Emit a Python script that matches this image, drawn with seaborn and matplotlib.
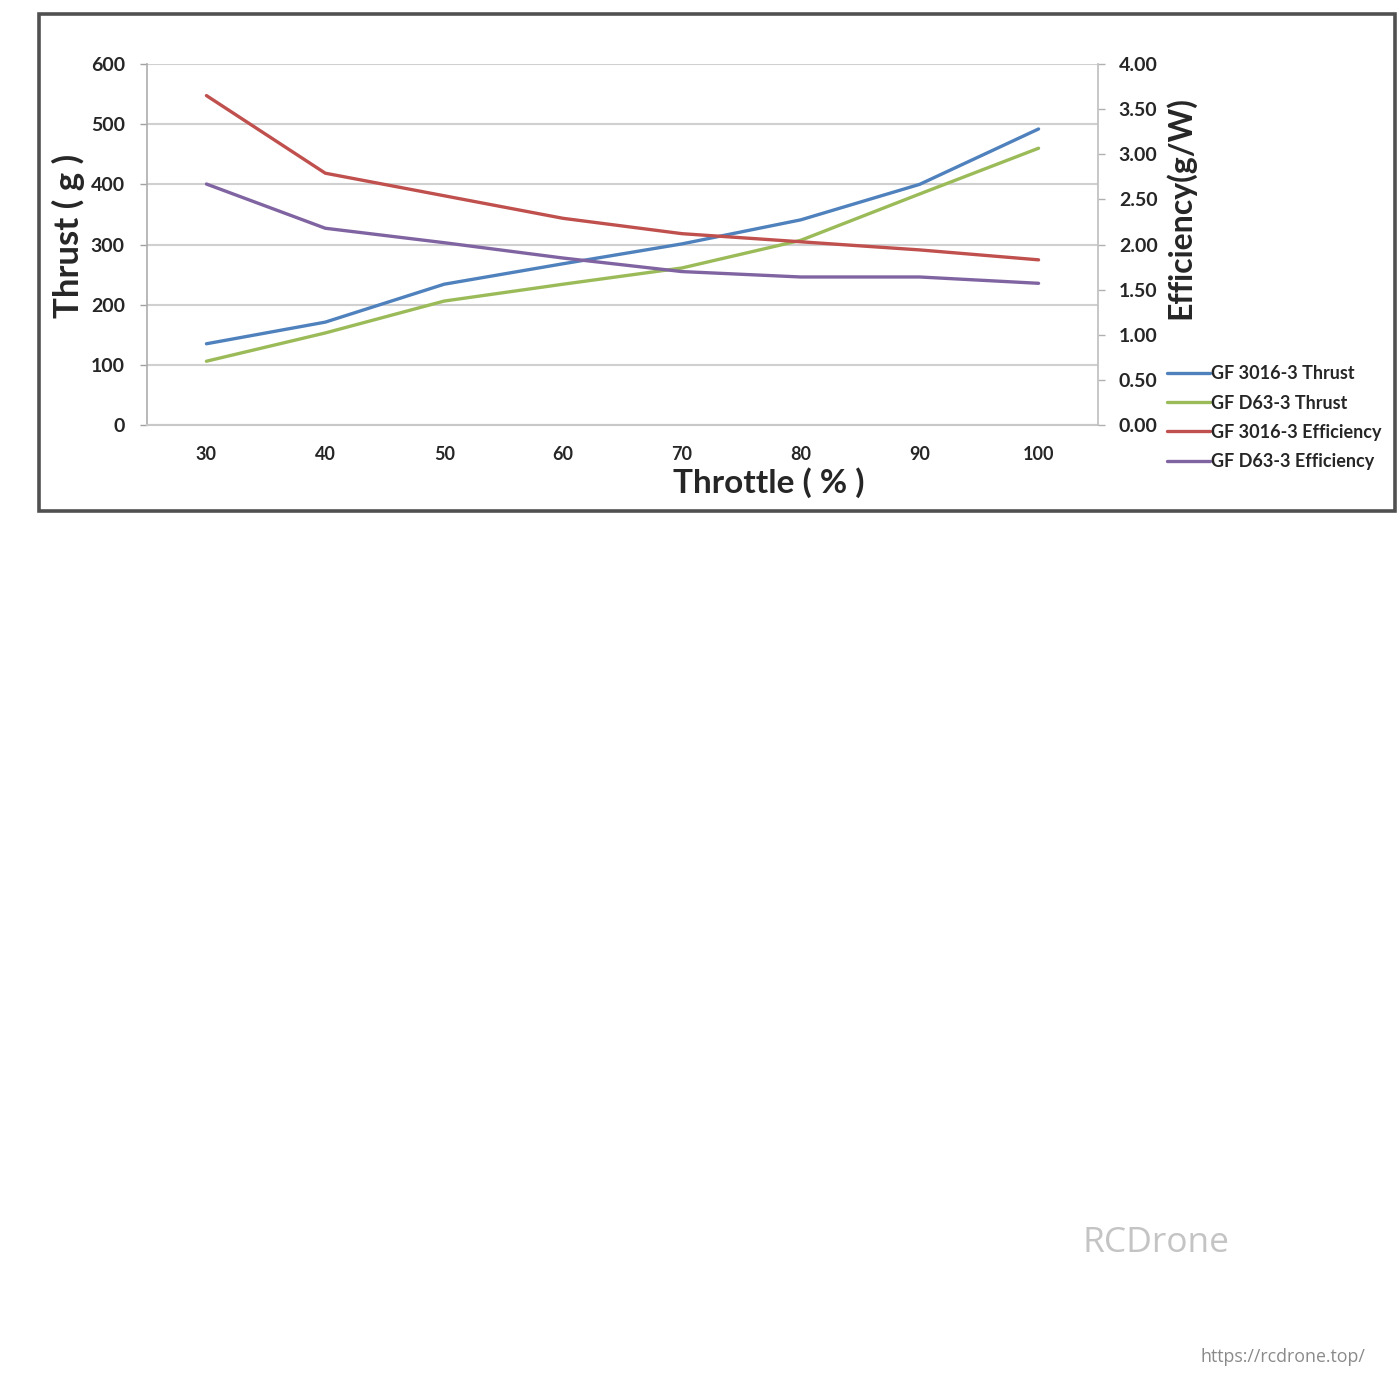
import pandas as pd
import seaborn as sns
import matplotlib.pyplot as plt
from matplotlib.patches import Rectangle

sns.set_theme(style="white")
plt.rcParams['font.family'] = ['Lato', 'DejaVu Sans']

# dados
throttle = [30, 40, 50, 60, 70, 80, 90, 100]
thrust_3016 = [135, 171, 234, 268, 301, 341, 400, 492]
thrust_d63 = [106, 153, 206, 234, 261, 307, 384, 460]
eff_3016 = [3.65, 2.79, 2.54, 2.29, 2.12, 2.03, 1.94, 1.83]
eff_d63 = [2.67, 2.18, 2.02, 1.85, 1.70, 1.64, 1.64, 1.57]
nomes = ["GF 3016-3 Thrust", "GF D63-3 Thrust", "GF 3016-3 Efficiency", "GF D63-3 Efficiency"]
cores = ["#4F81BD", "#9BBB59", "#C0504D", "#8064A2"]

empuxo = pd.DataFrame({
    "throttle": throttle * 2,
    "valor": thrust_3016 + thrust_d63,
    "serie": [nomes[0]] * 8 + [nomes[1]] * 8,
})
eficiencia = pd.DataFrame({
    "throttle": throttle * 2,
    "valor": eff_3016 + eff_d63,
    "serie": [nomes[2]] * 8 + [nomes[3]] * 8,
})

fig = plt.figure(figsize=(14, 14), dpi=100)
W = H = 1400.0

# moldura do grafico
fig.patches.append(Rectangle((39 / W, 1 - 511 / H), 1356 / W, 497 / H, transform=fig.transFigure,
                             fill=False, edgecolor="#505050", linewidth=2.6))

ax = fig.add_axes([147 / W, 1 - 425 / H, 951 / W, 361 / H])
ax2 = ax.twinx()

sns.lineplot(data=empuxo, x="throttle", y="valor", hue="serie", palette=cores[:2],
             linewidth=2.4, legend=False, ax=ax)
sns.lineplot(data=eficiencia, x="throttle", y="valor", hue="serie", palette=cores[2:],
             linewidth=2.4, legend=False, ax=ax2)

ax.set_xlim(25, 105)
ax.set_ylim(0, 600)
ax2.set_ylim(0, 4)
ax.set_xticks(throttle)
ax.set_xticklabels([str(t) for t in throttle], fontsize=13, fontweight="bold")
ax.set_xticks(range(25, 106, 10), minor=True)
ax.set_yticks(range(0, 601, 100))
ax.set_yticklabels([str(v) for v in range(0, 601, 100)], fontsize=14, fontweight="bold")
ax2.set_yticks([i * 0.5 for i in range(9)])
ax2.set_yticklabels(["%.2f" % (i * 0.5) for i in range(9)], fontsize=14, fontweight="bold")

ax.tick_params(axis="x", which="major", length=0, pad=15)
ax.tick_params(axis="x", which="minor", length=5, color="#a0a0a0", width=1)
ax.tick_params(axis="y", length=5, color="#a0a0a0", width=1, pad=11)
ax2.tick_params(axis="y", length=5, color="#b0b0b0", width=1, pad=10)

ax.yaxis.grid(True, color="#d0d0d0", linewidth=1.5)
ax.set_axisbelow(True)
for s in ["top", "right"]:
    ax.spines[s].set_visible(False)
    ax2.spines[s if s == "top" else "left"].set_visible(False)
ax2.spines["bottom"].set_visible(False)
ax.spines["left"].set_color("#b0b0b0")
ax.spines["bottom"].set_color("#c8c8c8")
ax.spines["bottom"].set_linewidth(1.5)
ax2.spines["right"].set_color("#c0c0c0")

ax.set_xlabel("Throttle ( % )", fontsize=24, fontweight="bold")
ax.set_ylabel("Thrust ( g )", fontsize=25, fontweight="bold")
ax2.set_ylabel("Efficiency(g/W)", fontsize=23, fontweight="bold")
ax.xaxis.set_label_coords((769 - 147) / 951, -(467 - 425) / 361)
ax.yaxis.set_label_coords(-(147 - 85) / 951, (425 - 236) / 361)
ax2.yaxis.set_label_coords(1 + (1165 - 1098) / 951, (425 - 208) / 361)

linhas = ax.lines[:2] + ax2.lines[:2]
fig.legend(linhas, nomes, loc="upper left", bbox_to_anchor=(1151 / W, 1 - 349 / H),
           frameon=False, handlelength=2.35, handletextpad=0.1, labelspacing=0.68,
           prop={"size": 13, "weight": "bold"})

fig.text(1083 / W, 1 - 1243 / H, "RCDrone", fontsize=25.5, color="#c4c4c4", va="center", ha="left",
         family=["Open Sans", "DejaVu Sans"])
fig.text(1365 / W, 1 - 1357 / H, "https://rcdrone.top/", fontsize=12.8, color="#8a8a8a", va="center",
         ha="right", family=["Open Sans", "DejaVu Sans"])

fig.savefig("out.png", dpi=100, facecolor="white")
